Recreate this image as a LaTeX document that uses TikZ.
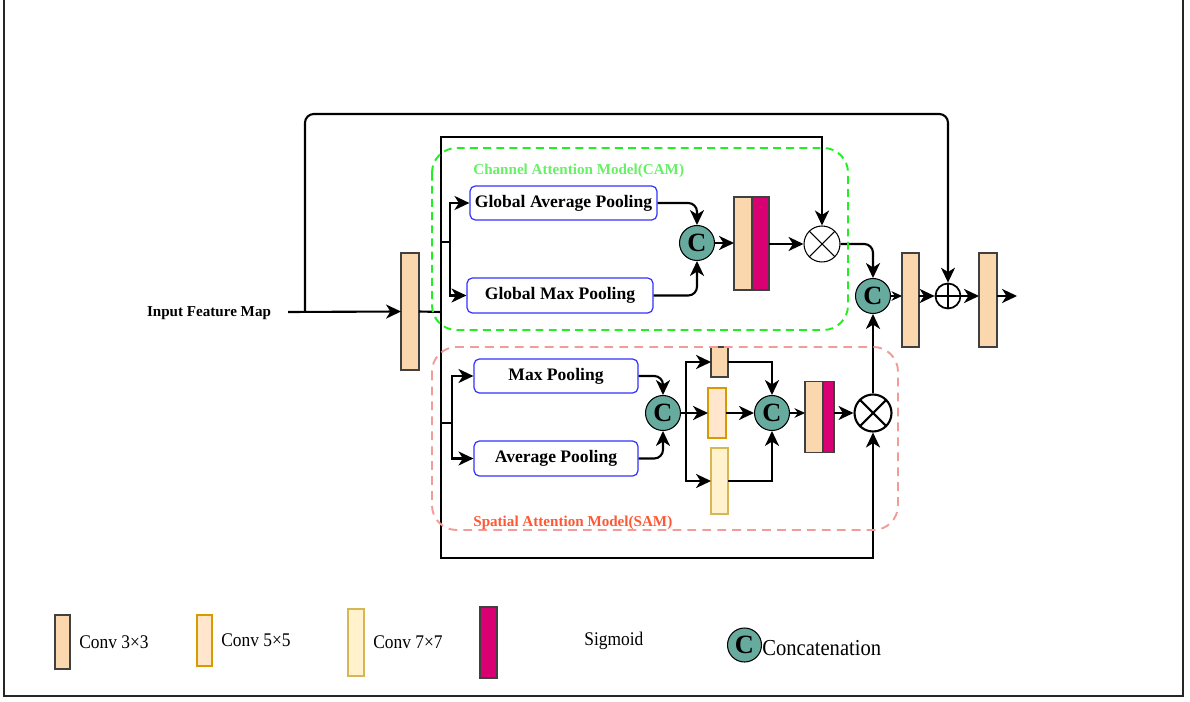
\documentclass[tikz,border=0pt]{standalone}
\usepackage{fontspec}
\setmainfont{Liberation Serif}
\newfontfamily\legfont{Liberation Serif}[FakeStretch=0.9]
\usetikzlibrary{positioning, arrows.meta}

\definecolor{convA}{HTML}{FAD7AC}
\definecolor{convB}{HTML}{FFE6CC}
\definecolor{convBline}{HTML}{D79B00}
\definecolor{convC}{HTML}{FFF2CC}
\definecolor{convCline}{HTML}{D6B656}
\definecolor{sigm}{HTML}{D80073}
\definecolor{catteal}{HTML}{67AB9F}
\definecolor{poolblue}{HTML}{3333FF}
\definecolor{camline}{HTML}{22EE22}
\definecolor{camtext}{HTML}{66F066}
\definecolor{samline}{HTML}{F19C99}
\definecolor{samtext}{HTML}{FF5733}

\begin{document}
\begin{tikzpicture}[x=0.02cm, y=-0.02cm,
    link/.style={line width=1.2pt},
    flow/.style={line width=1.2pt, -{Stealth[length=8.5pt,width=8pt,inset=2.5pt]}},
    thinflow/.style={line width=0.6pt, -{Stealth[length=6pt,width=5.5pt,inset=2pt]}},
    pool/.style={draw=poolblue, line width=0.7pt, rounded corners=3pt, minimum height=0.68cm, inner sep=0pt, font=\bfseries\fontsize{10}{11}\selectfont},
    cat/.style={circle, draw, fill=catteal, line width=0.6pt, minimum size=0.7cm, inner sep=0pt, font=\bfseries\fontsize{15}{15}\selectfont},
    blk/.style={draw, inner sep=0pt, outer sep=0pt, line width=0.6pt},
    conva/.style={blk, fill=convA, draw=black!75},
    convb/.style={blk, fill=convB, draw=convBline},
    convc/.style={blk, fill=convC, draw=convCline},
    sig/.style={blk, fill=sigm, draw=black!75},
    mult/.style={circle, draw, inner sep=0pt, path picture={
        \draw (path picture bounding box.north west) -- (path picture bounding box.south east)
              (path picture bounding box.south west) -- (path picture bounding box.north east);}},
    addop/.style={circle, draw, inner sep=0pt, line width=1pt, minimum size=0.5cm, path picture={
        \draw (path picture bounding box.north) -- (path picture bounding box.south)
              (path picture bounding box.west) -- (path picture bounding box.east);}},
    lbl/.style={inner sep=0pt, font=\bfseries\fontsize{8.6}{9}\selectfont},
    legtext/.style={inner sep=0pt, font=\legfont\fontsize{11}{13}\selectfont}]

\useasboundingbox (0,0) rectangle (1190,702);
\draw[line width=0.8pt, black!85] (4,-10) -- (4,696) -- (1183,696) -- (1183,-10);

% input and outer frame
\node[inner sep=0pt, font=\bfseries\fontsize{8.6}{10}\selectfont] (inlbl) at (209,313) {Input Feature Map};
\node[conva, minimum width=0.36cm, minimum height=2.34cm] (inconv) at (410,311.5) {};
\coordinate (instart) at (288,312);
\coordinate (skip) at (305,312);
\coordinate (skiptop) at (305,114);
\coordinate (bus) at (441,312);
\coordinate (bustop) at (441,137);
\coordinate (busbot) at (441,558);
\coordinate (camsplit) at (441,242);
\coordinate (samsplit) at (441,423);
\coordinate (outend) at (1017,296);

% channel attention
\node[pool, minimum width=3.74cm] (gap) at (563.5,203) {Global Average Pooling};
\node[pool, minimum width=3.72cm, minimum height=0.7cm] (gmp) at (560,295.5) {Global Max Pooling};
\node[cat] (catcam) at (697,243) {C};
\node[conva, minimum width=0.36cm, minimum height=1.86cm] (camconv) at (743,243.5) {};
\node[sig, minimum width=0.34cm, minimum height=1.86cm, right=0pt of camconv] (camsig) {};
\node[mult, line width=0.6pt, minimum size=0.72cm] (xcam) at (822,244) {};
\node[cat] (catout) at (873,296) {C};
\node[conva, minimum width=0.34cm, minimum height=1.88cm] (outa) at (910.5,300) {};
\node[addop] (oplus) at (948,296) {};
\node[conva, minimum width=0.36cm, minimum height=1.88cm] (outb) at (988,300) {};

% spatial attention
\node[pool, minimum width=3.28cm] (mp) at (556,376) {Max Pooling};
\node[pool, minimum width=3.28cm, minimum height=0.7cm] (ap) at (556,458.5) {Average Pooling};
\node[cat] (catsama) at (663,413) {C};
\node[conva, minimum width=0.34cm, minimum height=0.6cm] (k3) at (719.5,362) {};
\node[convb, minimum width=0.36cm, minimum height=1.0cm] (k5) at (717,413) {};
\node[convc, minimum width=0.34cm, minimum height=1.32cm] (k7) at (719.5,481) {};
\node[cat] (catsamb) at (772,413) {C};
\node[conva, minimum width=0.36cm, minimum height=1.42cm] (samconv) at (814,417) {};
\node[sig, minimum width=0.22cm, minimum height=1.42cm, right=0pt of samconv] (samsig) {};
\node[mult, line width=1.2pt, minimum size=0.74cm] (xsam) at (873,413) {};

% connectors
\draw[flow] (instart) -- (inconv.west);
\draw[link] (inconv.east) -- (bus);
\draw[flow, rounded corners=5pt] (skip) -- (skiptop) -| (oplus.north);
\draw[flow] (bus) -- (bustop) -| (xcam.north);
\draw[flow] (bus) -- (busbot) -| (xsam.south);

\draw[link] (camsplit) -- ++(9,0) coordinate (camfork);
\draw[flow] (camfork) |- (gap.west);
\draw[flow] (camfork) |- (gmp.west);
\draw[flow, rounded corners=5pt] (gap.east) -| (catcam.north);
\draw[flow, rounded corners=5pt] (gmp.east) -| (catcam.south);
\draw[flow] (catcam) -- (catcam -| camconv.west);
\draw[flow] (camsig.east |- xcam) -- (xcam.west);
\draw[flow, rounded corners=5pt] (xcam.east) -| (catout.north);
\draw[flow] (xsam.north) -- (catout.south);
\draw[thinflow] (catout.east) -- (catout -| outa.west);
\draw[flow] (oplus -| outa.east) -- (oplus.west);
\draw[flow] (oplus.east) -- (oplus -| outb.west);
\draw[flow] (oplus -| outb.east) -- (outend);

\draw[link] (samsplit) -- ++(11,0) coordinate (samfork);
\draw[flow] (samfork) |- (mp.west);
\draw[flow] (samfork) |- (ap.west);
\draw[flow, rounded corners=5pt] (mp.east) -| (catsama.north);
\draw[flow, rounded corners=5pt] (ap.east) -| (catsama.south);
\draw[link] (catsama.east) -- ++(5,0) coordinate (kfork);
\draw[flow] (kfork) |- (k3.west);
\draw[flow] (kfork) -- (kfork -| k5.west);
\draw[flow] (kfork) |- (k7.west);
\draw[flow] (k3.east) -| (catsamb.north);
\draw[flow] (k5) -- (catsamb);
\draw[flow] (k7.east) -| (catsamb.south);
\draw[thinflow] (catsamb.east) -- (catsamb -| samconv.west);
\draw[flow] (samsig.east |- xsam) -- (xsam.west);

% attention regions
\draw[camline, line width=1.1pt, dash pattern=on 4.5pt off 3pt, rounded corners=14pt] (432,148) rectangle (848,330);
\node[lbl, anchor=west, text=camtext] (camlbl) at (473,171) {Channel Attention Model(CAM)};
\draw[samline, line width=1.1pt, dash pattern=on 5pt off 3.5pt, rounded corners=14pt] (432,347) rectangle (898,530);
\node[lbl, anchor=west, text=samtext] (samlbl) at (473,523) {Spatial Attention Model(SAM)};

% legend
\node[conva, minimum width=0.3cm, minimum height=1.08cm] (lga) at (62.5,642) {};
\node[legtext, right=0.18cm of lga] (lgatext) {Conv 3×3};
\node[convb, minimum width=0.3cm, minimum height=1.02cm] (lgb) at (204.5,640.5) {};
\node[legtext, right=0.18cm of lgb] (lgbtext) {Conv 5×5};
\node[convc, minimum width=0.32cm, minimum height=1.34cm] (lgc) at (356,642.5) {};
\node[legtext, right=0.18cm of lgc] (lgctext) {Conv 7×7};
\node[sig, minimum width=0.34cm, minimum height=1.42cm] (lgs) at (488.5,642.5) {};
\node[legtext, right=1.74cm of lgs, yshift=1pt] (lgstext) {Sigmoid};
\node[cat, minimum size=0.68cm] (lgcat) at (744.5,645) {C};
\node[legtext, font=\legfont\fontsize{13}{15}\selectfont, right=0pt of lgcat, yshift=-1.5pt] (lgcattext) {Concatenation};
\end{tikzpicture}
\end{document}
